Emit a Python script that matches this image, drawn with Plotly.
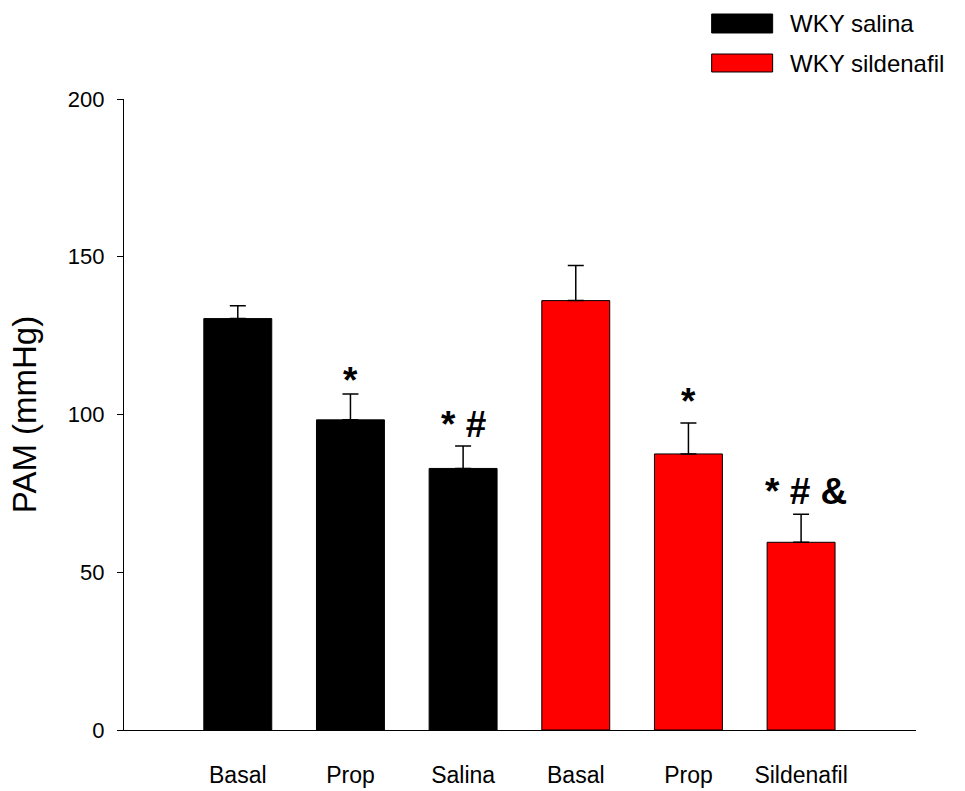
import plotly.graph_objects as go

# Mean arterial pressure per condition, two treatment groups
categories = ["Basal", "Prop", "Salina", "Basal", "Prop", "Sildenafil"]
series_names = ["WKY salina", "WKY sildenafil"]
salina_means = [130.4, 98.3, 82.9]
salina_sem = [4.1, 8.2, 7.1]
sildenafil_means = [136.1, 87.5, 59.5]
sildenafil_sem = [11.1, 9.8, 8.9]
salina_marks = ["", "*", "* #"]
sildenafil_marks = ["", "*", "* # &"]
y_ticks = [0, 50, 100, 150, 200]

FONT = "Liberation Sans, Arial, sans-serif"
positions = list(range(len(categories)))
salina_x = positions[:3]
sildenafil_x = positions[3:]

fig = go.Figure()
fig.add_trace(go.Bar(
    x=salina_x, y=salina_means, name=series_names[0], width=0.603,
    marker=dict(color="#000000", line=dict(color="#000000", width=1)),
    error_y=dict(type="data", symmetric=False, array=salina_sem,
                 arrayminus=[0] * len(salina_sem), color="#000000",
                 thickness=1.5, width=8),
    showlegend=False,
))
fig.add_trace(go.Bar(
    x=sildenafil_x, y=sildenafil_means, name=series_names[1], width=0.603,
    marker=dict(color="#FF0000", line=dict(color="#000000", width=1)),
    error_y=dict(type="data", symmetric=False, array=sildenafil_sem,
                 arrayminus=[0] * len(sildenafil_sem), color="#000000",
                 thickness=1.5, width=8),
    showlegend=False,
))

# significance marks above the error bars
mark_shift = {"*": -9, "* #": -1, "* # &": 0}
extra_shift = [0, 0, 0, 0, 8, 0]
mark_xshift = [0, 0, 0, 0, 0, 5]
marks = salina_marks + sildenafil_marks
tops = [m + e for m, e in zip(salina_means + sildenafil_means, salina_sem + sildenafil_sem)]
for i, (txt, top) in enumerate(zip(marks, tops)):
    if not txt:
        continue
    fig.add_annotation(
        x=positions[i], y=top, text=f"<b>{txt}</b>", showarrow=False,
        xref="x", yref="y", yanchor="bottom", xanchor="center",
        yshift=mark_shift[txt] + extra_shift[i], xshift=mark_xshift[i],
        font=dict(family=FONT, size=37, color="#000000"),
    )

# legend drawn as swatches plus labels above the plot area
legend_colors = ["#000000", "#FF0000"]
legend_rows = [(1.1347, 1.1046), (1.0713, 1.0428)]
for name, color, (y1, y0) in zip(series_names, legend_colors, legend_rows):
    fig.add_shape(type="rect", xref="paper", yref="paper",
                  x0=0.742, x1=0.819, y0=y0, y1=y1,
                  fillcolor=color, line=dict(color="#000000", width=1))
    fig.add_annotation(x=0.8384, y=(y0 + y1) / 2, xref="paper", yref="paper",
                       text=name, showarrow=False, xanchor="left", yanchor="middle",
                       font=dict(family=FONT, size=24, color="#000000"))

fig.update_layout(
    width=965, height=791,
    margin=dict(l=124, r=49, t=99, b=61),
    paper_bgcolor="white", plot_bgcolor="white",
    font=dict(family=FONT, color="#000000"),
    bargap=0.4,
)
fig.update_xaxes(
    range=[-1.01, 6.02], tickvals=positions, ticktext=categories,
    showline=True, linecolor="#000000", linewidth=1.3,
    ticks="", showgrid=False, zeroline=False, automargin=False,
    tickfont=dict(family=FONT, size=23, color="#000000"),
    ticklabelstandoff=24,
)
fig.update_yaxes(
    range=[0, 200], tickvals=y_ticks,
    showline=True, linecolor="#000000", linewidth=1.3,
    ticks="outside", ticklen=6, tickwidth=1, tickcolor="#000000",
    showgrid=False, zeroline=False, automargin=False,
    tickfont=dict(family=FONT, size=22, color="#000000"),
    ticklabelstandoff=8,
    title=dict(text="PAM (mmHg)", font=dict(family=FONT, size=33, color="#000000"),
               standoff=21),
)

fig.write_html("out.html")
